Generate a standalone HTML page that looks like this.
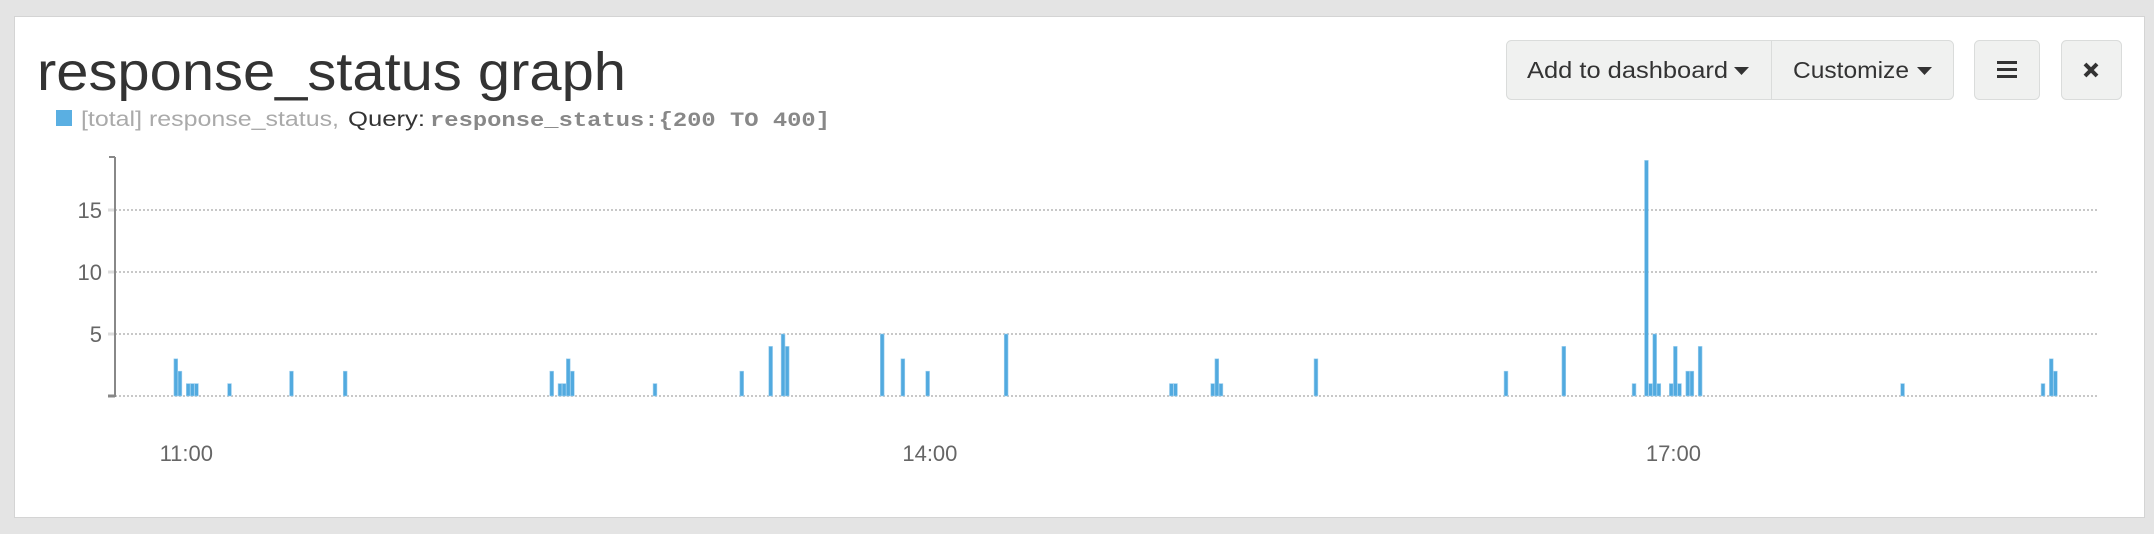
<!DOCTYPE html>
<html><head><meta charset="utf-8"><style>
html,body{margin:0;padding:0;background:#e4e4e4;}
svg{display:block;font-family:"Liberation Sans",sans-serif;}
</style></head><body>
<svg width="2154" height="534" viewBox="0 0 2154 534">
<rect x="0" y="0" width="2154" height="534" fill="#e4e4e4"/>
<rect x="14.5" y="16.5" width="2130" height="501" fill="#fff" stroke="#d4d4d4"/>
<text x="37" y="90" font-size="54" fill="#333" textLength="589" lengthAdjust="spacingAndGlyphs">response_status graph</text>
<g>
<rect x="56" y="110" width="16" height="16" fill="#5aafe2"/>
<text x="81" y="126" font-size="21" fill="#aaa" textLength="258" lengthAdjust="spacingAndGlyphs">[total] response_status,</text>
<text x="348" y="126" font-size="21" fill="#333" textLength="77" lengthAdjust="spacingAndGlyphs">Query:</text>
<text x="430" y="126" font-size="20" font-weight="bold" fill="#888" font-family="Liberation Mono, monospace" textLength="400" lengthAdjust="spacingAndGlyphs">response_status:{200 TO 400]</text>
</g>
<g>
<rect x="1506.5" y="40.5" width="447" height="59" rx="5" fill="#f0f1f0" stroke="#dadcdb"/>
<line x1="1771.5" y1="41" x2="1771.5" y2="99" stroke="#dadcdb"/>
<g>
<text x="1527" y="78" font-size="23" fill="#333" textLength="201" lengthAdjust="spacingAndGlyphs">Add to dashboard</text>
<path d="M1734 67 L1749 67 L1741.5 75 Z" fill="#333"/>
</g>
<g>
<text x="1793" y="78" font-size="23" fill="#333" textLength="116" lengthAdjust="spacingAndGlyphs">Customize</text>
<path d="M1917 67 L1932 67 L1924.5 75 Z" fill="#333"/>
</g>
<g>
<rect x="1974.5" y="40.5" width="65" height="59" rx="5" fill="#f0f1f0" stroke="#dadcdb"/>
<rect x="1997" y="61" width="20" height="3" fill="#333"/>
<rect x="1997" y="68" width="20" height="3" fill="#333"/>
<rect x="1997" y="75" width="20" height="3" fill="#333"/>
</g>
<g>
<rect x="2061.5" y="40.5" width="60" height="59" rx="5" fill="#f0f1f0" stroke="#dadcdb"/>
<path d="M2085 64 L2097 76 M2097 64 L2085 76" stroke="#333" stroke-width="4"/>
</g>
</g>
<g id="chart"></g>
</svg>
<script>
const yTicks = [0, 5, 10, 15];
const xTickLabels = ["11:00", "14:00", "17:00"];
const xTickMinutes = [0, 180, 360];
// minutes after 11:00
const barMinutes = [-3,-2,0,1,2,10,25,38,88,90,91,92,93,113,134,141,144,145,168,173,179,198,238,239,248,249,250,273,319,333,350,353,354,355,356,359,360,361,363,364,366,415,449,451,452];
const barValues  = [3,2,1,1,1,1,2,2,2,1,1,3,2,1,2,4,5,4,5,3,2,5,1,1,1,3,1,3,2,4,1,19,1,5,1,1,4,1,2,2,4,1,1,3,2];

const NS = "http://www.w3.org/2000/svg";
const chartG = document.getElementById('chart');
const X0 = 115, X1 = 2098, Y0 = 396, pxPerUnit = 12.4;
const barX0 = 186.3, pxPerMin = 4.131;
function yScale(v){ return Y0 - v * pxPerUnit; }
function xScale(m){ return barX0 + m * pxPerMin; }
function mk(tag, attrs){ const e = document.createElementNS(NS, tag); for (const k in attrs) e.setAttribute(k, attrs[k]); chartG.appendChild(e); return e; }

yTicks.forEach(function(t){
  const y = yScale(t);
  const gl = mk('line', {x1: X0, x2: X1, y1: y, y2: y, stroke: '#c8c8c8', 'stroke-width': 2, 'stroke-dasharray': '2 2'});
  
  
  const tk = mk('line', {x1: 108, x2: 115, y1: y, y2: y, stroke: t === 0 ? '#888' : '#ddd', 'stroke-width': 3});
  
  
  if (t > 0) {
    const lb = mk('text', {x: 102, y: y + 8, 'font-size': 22, fill: '#666', 'text-anchor': 'end'});
    lb.textContent = t;
    
    
  }
});
const topTick = mk('line', {x1: 109, x2: 115, y1: 157, y2: 157, stroke: '#888', 'stroke-width': 2});


const yAxisLine = mk('line', {x1: 115, x2: 115, y1: 157, y2: 397, stroke: '#888', 'stroke-width': 2});



xTickLabels.forEach(function(l, i){
  const t = mk('text', {x: xScale(xTickMinutes[i]), y: 461, 'font-size': 22, fill: '#666', 'text-anchor': 'middle'});
  t.textContent = l;
  
  
});

barMinutes.forEach(function(m, i){
  const v = barValues[i];
  const b = mk('rect', {x: xScale(m), y: yScale(v), width: 3.8, height: v * pxPerUnit, fill: '#52aadf', stroke: '#9fd0ef', 'stroke-width': 0.6});
  
  
});
</script>
</body></html>
